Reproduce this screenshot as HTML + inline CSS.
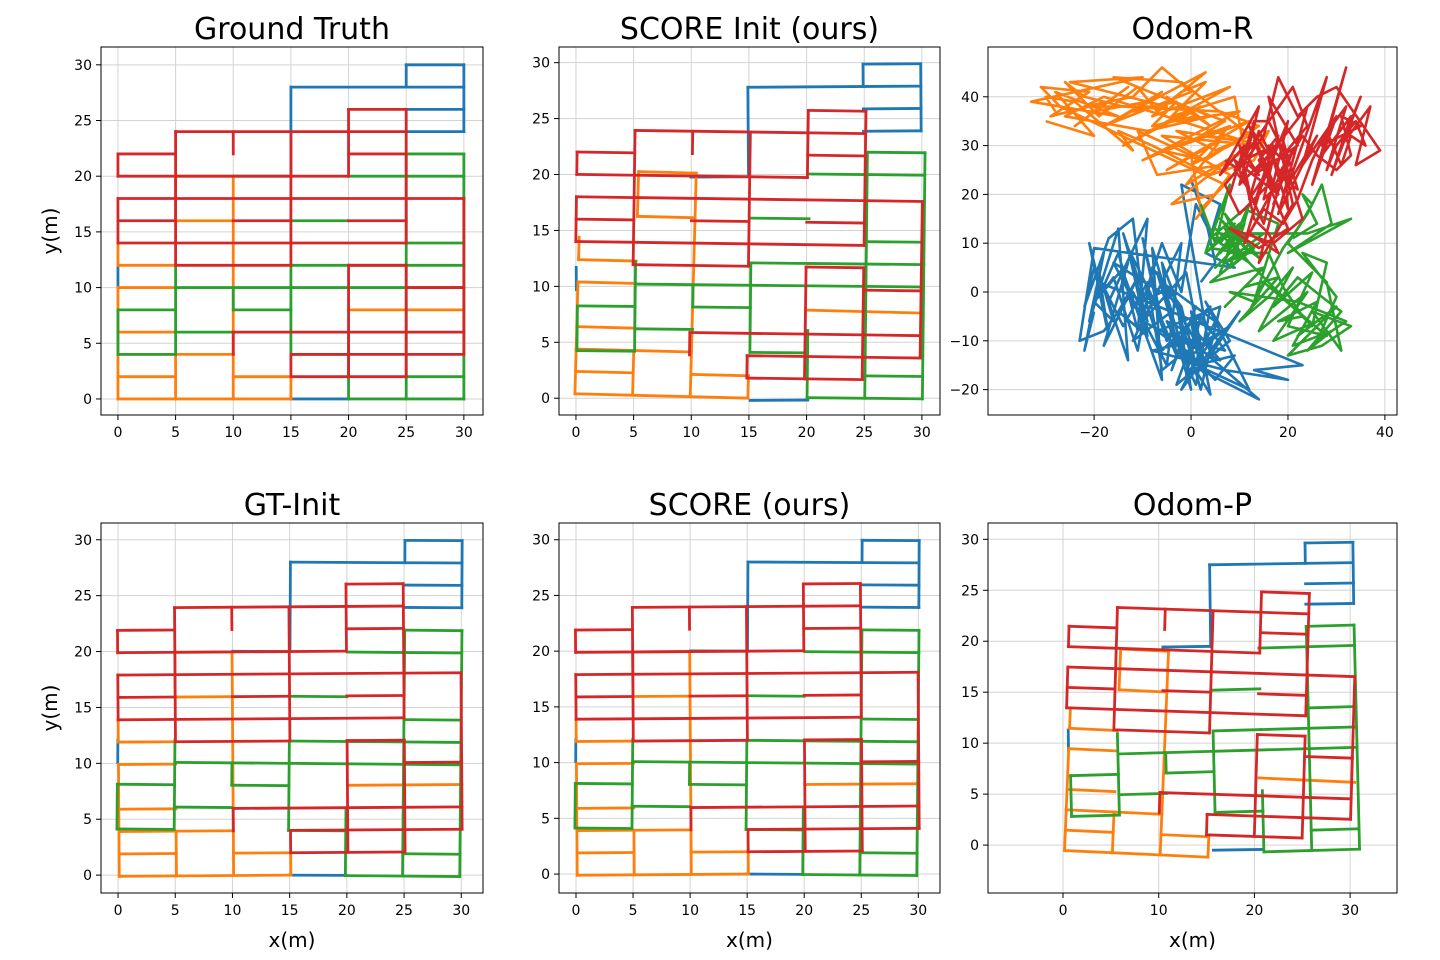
<!DOCTYPE html>
<html><head><meta charset="utf-8"><style>
body{margin:0;background:#fff;}
svg{display:block;font-family:"DejaVu Sans","Liberation Sans",sans-serif;}
</style></head><body>
<svg id="fig" width="1440" height="960" viewBox="0 0 1440 960" xmlns="http://www.w3.org/2000/svg"></svg>
<script>
// ---- Data ----
const colors = ["#1f77b4","#ff7f0e","#2ca02c","#d62728"];
const seriesNames = ["blue-robot","orange-robot","green-robot","red-robot"];
const gtBlue = [[15,0,20,0],[10,20,15,20],[0,10,0,12],[15,20,15,28],[15,28,30,28],[25,28,25,30],[25,30,30,30],[30,30,30,24],[25,26,30,26],[25,24,30,24]];
const gtOrange = [[0,0,15,0],[0,2,5,2],[10,2,15,2],[0,4,10,4],[0,0,0,4],[5,0,5,4],[10,0,10,4],[15,0,15,2],[0,6,5,6],[0,10,5,10],[0,4,0,10],[0,12,5,12],[0,12,0,14],[5,20,10,20],[5,16,10,16],[10,4,10,20],[5,16,5,20],[20,8,30,8]];
const gtGreen = [[30,0,30,22],[20,0,30,0],[25,2,30,2],[20,0,20,6],[25,0,25,22],[25,22,30,22],[20,20,30,20],[25,14,30,14],[20,12,30,12],[15,10,30,10],[10,8,15,8],[15,16,20,16],[15,4,15,12],[15,4,20,4],[5,4,5,12],[0,4,5,4],[5,6,10,6],[0,8,5,8],[0,4,0,8],[5,10,15,10],[10,8,10,10],[15,12,20,12]];
const gtRed = [[0,22,5,22],[0,20,0,22],[0,20,20,20],[5,12,5,24],[5,24,25,24],[10,22,10,24],[15,12,15,24],[20,20,20,26],[20,26,25,26],[25,14,25,26],[20,22,25,22],[0,18,30,18],[0,14,0,18],[0,16,5,16],[10,16,15,16],[20,16,25,16],[0,14,25,14],[5,12,15,12],[30,4,30,18],[20,2,20,12],[20,12,25,12],[25,10,30,10],[10,6,30,6],[15,4,30,4],[15,2,15,4],[15,2,25,2],[25,2,25,12],[10,4,10,6]];
const gtSets = [gtBlue, gtOrange, gtGreen, gtRed];

const odomRBlue = [[-20,-4],[-22,-12],[-18,8],[-21,-6],[-15,13],[-13,-14],[-17,-2],[-9,15],[-11,-8],[-14,4],[-6,-18],[-8,9],[-4,-4],[-12,-10],[-2,10],[-5,-15],[-16,6],[-3,-2],[0,-20],[-7,4],[2,-12],[-4,-8],[4,-21],[-1,4],[-10,-6],[6,-14],[1,-8],[-3,-19],[8,-10],[3,-2],[12,-20],[-1,-14],[-6,2],[5,-6],[-2,-20],[10,-4],[4,-13],[-2,22],[6,18],[3,8],[9,5],[-20,9],[-23,-10],[-18,-8],[-12,0],[-9,-6],[-14,12],[-6,-12],[0,-6],[2,-16],[14,-22],[0,-10],[-8,-12],[7,-16],[20,-18],[13,-16],[23,-15],
 [-19,2],[-21,10],[-17,-9],[-19,4],[-16,-6],[-20,-2],[-13,6],[-18,-11],[-11,3],[-15,-4],[-9,-9],[-13,9],[-7,-3],[-10,11],[-5,-10],[-8,-1],[-3,-13],[-6,6],[-1,-7],[-4,-16],[1,-3],[-2,-11],[3,-17],[0,-4],[5,-9],[-1,-17],[2,-5],[7,-12],[-3,-9],[4,-3],[1,-19],[-5,-6],[3,-10],[8,-7],[0,-13],[-7,-8],[6,-3],[2,-20],[-4,1],[-12,-3],[-15,8],[-19,-1],[-16,3],[-11,-12],[-8,5],[-2,-3],[1,-15],[9,-13],[5,-18],[-1,-12],[-6,-16],[-9,2],[-14,-7],[-20,5],[-22,-3],[-17,11],[-12,15],[-10,-2],[-6,10],[-2,0],[1,18],[4,12],[0,23],[3,15],[5,6],[2,2]];
const odomROrange = [[-30,35],[-20,32],[-28,41],[-15,36],[-33,39],[-10,44],[-25,43],[-5,38],[-22,38],[-12,40],[-6,46],[0,41],[-18,34],[3,45],[-8,36],[8,42],[-14,30],[2,38],[-3,35],[10,37],[-10,27],[5,33],[-2,30],[12,35],[-5,25],[6,31],[-1,22],[9,28],[-4,18],[5,20],[1,15],[8,24],[-6,32],[14,30],[-18,40],[-26,36],[-9,33],[4,36],[-16,44],[-2,43],[11,33],[15,31],[6,26],[-7,24],[-11,33],[0,28],[2,17],[7,22],
 [-27,38],[-31,42],[-21,41],[-29,36],[-17,39],[-24,34],[-13,42],[-20,37],[-9,39],[-16,35],[-6,41],[-12,37],[-3,39],[-8,34],[1,36],[-5,40],[4,34],[-1,38],[7,35],[2,32],[10,31],[-3,33],[5,29],[12,32],[0,26],[8,34],[-6,29],[3,27],[14,34],[6,37],[-14,38],[-22,40],[-26,43],[-19,36],[-11,42],[-7,37],[-2,41],[3,43],[-4,36],[9,40],[11,29],[16,33],[13,27],[4,24],[-2,27],[-8,30],[-15,33],[-12,29],[-24,39],[-30,40],[-28,37]];
const odomRGreen = [[2,18],[5,10],[8,22],[3,8],[10,14],[6,4],[12,18],[9,7],[14,10],[4,2],[15,5],[7,-3],[11,1],[18,3],[10,-6],[16,-1],[21,5],[14,-8],[19,-4],[24,0],[17,-10],[26,-6],[22,-9],[30,-3],[20,-13],[27,-11],[33,-7],[25,-4],[31,-12],[28,2],[20,10],[24,16],[27,22],[29,14],[20,8],[33,15],[24,12],[9,12],[6,15],[12,8],[7,6],[15,12],[4,11],[11,17],[18,14],[13,-2],[8,0],[22,-2],[32,-6],[26,-10],[30,-1],[23,8],[28,6],[25,-7],
 [5,13],[9,9],[6,12],[11,11],[7,9],[10,13],[5,7],[8,11],[12,6],[6,10],[9,14],[4,9],[10,8],[7,13],[13,9],[8,5],[11,14],[6,8],[9,11],[14,7],[7,16],[10,10],[5,5],[12,12],[8,8],[16,8],[19,1],[23,-5],[18,-6],[26,-2],[21,-11],[29,-8],[24,-12],[31,-4],[27,-1],[22,3],[17,-3],[25,4],[20,-7],[28,-9],[15,2],[12,-4],[19,9],[22,13],[25,18],[23,20],[26,14],[21,11]];
const odomRRed = [[8,20],[11,30],[6,24],[14,38],[10,22],[16,28],[12,34],[18,20],[9,27],[15,14],[20,35],[13,18],[17,30],[11,10],[19,25],[14,6],[21,18],[16,40],[22,30],[13,24],[24,38],[18,16],[26,32],[20,22],[28,44],[23,26],[30,36],[25,22],[32,46],[27,28],[33,36],[29,24],[35,40],[31,30],[37,38],[34,26],[39,29],[30,42],[26,40],[22,36],[18,44],[15,32],[12,28],[7,22],[10,16],[16,22],[20,13],[14,9],[8,13],[17,10],[23,15],[19,28],[24,34],[21,42],
 [9,25],[12,21],[10,30],[14,24],[11,27],[15,29],[12,19],[16,25],[13,31],[17,21],[14,27],[18,32],[15,19],[19,23],[16,30],[20,26],[17,18],[21,29],[18,24],[22,21],[19,31],[20,17],[17,27],[14,33],[11,24],[13,15],[16,12],[18,8],[12,12],[15,17],[19,14],[22,19],[25,27],[28,33],[31,26],[33,32],[36,30],[34,35],[30,30],[28,25],[32,38],[29,34],[27,30],[35,34],[31,36],[33,28],[30,25],[26,28],[23,32],[20,27],[16,35],[13,35],[10,25],[7,27]];
const odomRSets = [odomRBlue, odomROrange, odomRGreen, odomRRed];

// per-robot drift [dx, dy, rotation deg] applied to ground-truth layout
const odomPDrift = [[0.5,-0.5,0.8],[0.8,-1.2,-2.5],[0.6,-0.8,1.5],[0.4,-1.0,-1.8]];
const initDrift = [[0,-0.2,0.4],[0.3,0,-1.5],[0.2,0.1,-0.6],[0,-0.2,-0.8]];
const gtInitDrift = [[0,0,-0.3],[0,0,0.4],[0,0,-0.5],[0,0,0.4]];

const ticks30 = [0,5,10,15,20,25,30];
const ticksRX = [-20,0,20,40];
const ticksRY = [-20,-10,0,10,20,30,40];
const ticksPX = [0,10,20,30];
const ticksPY = [0,5,10,15,20,25,30];

// ---- Drawing ----
const NS="http://www.w3.org/2000/svg";
const fig=document.getElementById('fig');
function mk(tag,attrs,parent){const e=document.createElementNS(NS,tag);for(const k in attrs)e.setAttribute(k,attrs[k]);(parent||fig).appendChild(e);return e;}

function panel(p){
  const g=mk('g',{});
  
  
  const sx=v=>p.x0+(v-p.xl[0])/(p.xl[1]-p.xl[0])*(p.x1-p.x0);
  const sy=v=>p.y1-(v-p.yl[0])/(p.yl[1]-p.yl[0])*(p.y1-p.y0);
  p.xt.forEach(t=>{const l=mk('line',{x1:sx(t),x2:sx(t),y1:p.y0,y2:p.y1,stroke:'#d3d3d3','stroke-width':1},g);
    });
  p.yt.forEach(t=>{const l=mk('line',{x1:p.x0,x2:p.x1,y1:sy(t),y2:sy(t),stroke:'#d3d3d3','stroke-width':1},g);
    });
  const clipId='c'+Math.round(p.x0)+'_'+Math.round(p.y0);
  const cp=mk('clipPath',{id:clipId},g);mk('rect',{x:p.x0,y:p.y0,width:p.x1-p.x0,height:p.y1-p.y0},cp);
  const dg=mk('g',{'clip-path':'url(#'+clipId+')'},g);
  p.draw(dg,sx,sy);
  const fr=mk('rect',{x:p.x0,y:p.y0,width:p.x1-p.x0,height:p.y1-p.y0,fill:'none',stroke:'#000','stroke-width':1},g);
  
  p.xt.forEach(t=>{mk('line',{x1:sx(t),x2:sx(t),y1:p.y1,y2:p.y1+5,stroke:'#000'},g);
    const tx=mk('text',{x:sx(t),y:p.y1+22,'font-size':14,'text-anchor':'middle'},g);tx.textContent=t<0?'\u2212'+(-t):t;
    });
  p.yt.forEach(t=>{mk('line',{x1:p.x0-5,x2:p.x0,y1:sy(t),y2:sy(t),stroke:'#000'},g);
    const tx=mk('text',{x:p.x0-9,y:sy(t)+5,'font-size':14,'text-anchor':'end'},g);tx.textContent=t<0?'\u2212'+(-t):t;
    });
  const ti=mk('text',{x:(p.x0+p.x1)/2,y:p.y0-8,'font-size':30,'text-anchor':'middle'},g);ti.textContent=p.title;
  
  if(p.ylab){const yl=mk('text',{x:0,y:0,'font-size':20,'text-anchor':'middle',transform:`translate(57,${(p.y0+p.y1)/2}) rotate(-90)`},g);yl.textContent='y(m)';
    }
  if(p.xlab){const xl=mk('text',{x:(p.x0+p.x1)/2,y:p.y1+54,'font-size':20,'text-anchor':'middle'},g);xl.textContent='x(m)';
    }
}

function xf(d,x,y){const a=d[2]*Math.PI/180;const cx=15,cy=15;const X=x-cx,Y=y-cy;
  return [cx+X*Math.cos(a)-Y*Math.sin(a)+d[0], cy+X*Math.sin(a)+Y*Math.cos(a)+d[1]];}
function segDraw(drifts){return (g,sx,sy)=>{gtSets.forEach((set,i)=>{set.forEach(s=>{
  const a=xf(drifts[i],s[0],s[1]),b=xf(drifts[i],s[2],s[3]);
  const l=mk('line',{x1:sx(a[0]),y1:sy(a[1]),x2:sx(b[0]),y2:sy(b[1]),stroke:colors[i],'stroke-width':2.8,'stroke-linecap':'square'},g);
  });});};}
const noDrift=[[0,0,0],[0,0,0],[0,0,0],[0,0,0]];
function polyDraw(g,sx,sy){odomRSets.forEach((pts,i)=>{
  const pl=mk('polyline',{points:pts.map(p=>sx(p[0])+','+sy(p[1])).join(' '),fill:'none',stroke:colors[i],'stroke-width':2.6,'stroke-linejoin':'round'},g);
  });}

panel({name:'ground-truth-panel',title:'Ground Truth',x0:101,x1:483,y0:47,y1:415,xl:[-1.47,31.66],yl:[-1.44,31.6],xt:ticks30,yt:ticks30,ylab:true,draw:segDraw(noDrift)});
panel({name:'score-init-panel',title:'SCORE Init (ours)',x0:559,x1:940,y0:47,y1:415,xl:[-1.47,31.57],yl:[-1.5,31.4],xt:ticks30,yt:ticks30,draw:segDraw(initDrift)});
panel({name:'odom-r-panel',title:'Odom-R',x0:988,x1:1397,y0:47,y1:415,xl:[-41.9,42.5],yl:[-25.2,50.2],xt:ticksRX,yt:ticksRY,draw:polyDraw});
panel({name:'gt-init-panel',title:'GT-Init',x0:101,x1:483,y0:523,y1:893,xl:[-1.49,31.9],yl:[-1.6,31.5],xt:ticks30,yt:ticks30,ylab:true,xlab:true,draw:segDraw(gtInitDrift)});
panel({name:'score-panel',title:'SCORE (ours)',x0:559,x1:940,y0:523,y1:893,xl:[-1.49,31.9],yl:[-1.7,31.5],xt:ticks30,yt:ticks30,xlab:true,draw:segDraw(gtInitDrift)});
panel({name:'odom-p-panel',title:'Odom-P',x0:988,x1:1397,y0:523,y1:893,xl:[-7.84,34.9],yl:[-4.7,31.6],xt:ticksPX,yt:ticksPY,xlab:true,draw:segDraw(odomPDrift)});
</script>
</body></html>
